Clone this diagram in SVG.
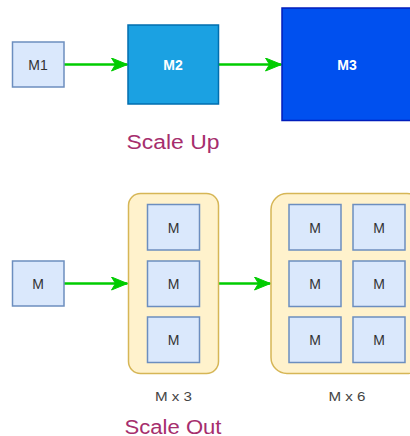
<svg xmlns="http://www.w3.org/2000/svg" width="410" height="436" viewBox="0 0 410 436">
  <style>
    .m { fill: #dae8fc; stroke: #6c8ebf; stroke-width: 1.5; }
    .mt { font-family: "Liberation Sans", Arial, sans-serif; font-size: 14px; fill: #333333; text-anchor: middle; dominant-baseline: central; }
    .bt { font-family: "Liberation Sans", Arial, sans-serif; font-size: 14px; font-weight: bold; fill: #ffffff; text-anchor: middle; dominant-baseline: central; }
    .grp { fill: #fff2cc; stroke: #d6b656; stroke-width: 1.5; }
    .cap { font-family: "Liberation Sans", Arial, sans-serif; font-size: 13.5px; fill: #444444; text-anchor: middle; }
    .title { font-family: "Liberation Sans", Arial, sans-serif; font-size: 20px; fill: #a62e6d; text-anchor: middle; }
    .link { stroke: #00cc00; stroke-width: 2.5; fill: none; marker-end: url(#arrow); }
  </style>
  <defs>
    <marker id="arrow" markerUnits="userSpaceOnUse" markerWidth="18" markerHeight="14" viewBox="0 0 18 14" refX="17" refY="7" orient="auto">
      <path d="M1,0.5 L17,7 L1,13.5 L5,7 Z" fill="#00cc00" stroke="#00cc00" stroke-width="1"/>
    </marker>
  </defs>

  <rect width="410" height="436" fill="#ffffff"/>

  <!-- connectors -->
  <g id="connectors">
    <line class="link" x1="64" y1="64.5" x2="127.5" y2="64.5"/>
    <line class="link" x1="219" y1="64.5" x2="281.5" y2="64.5"/>
    <line class="link" x1="64" y1="283.5" x2="127.5" y2="283.5"/>
    <line class="link" x1="219" y1="283.5" x2="270.5" y2="283.5"/>
  </g>

  <!-- scale up row -->
  <g id="m1">
    <rect class="m" x="12.5" y="42" width="51.5" height="45"/>
    <text class="mt" x="38" y="65">M1</text>
  </g>
  <g id="m2">
    <rect x="128" y="25" width="90.5" height="79" fill="#1ba1e2" stroke="#006eaf" stroke-width="1.5"/>
    <text class="bt" x="173" y="65">M2</text>
  </g>
  <g id="m3">
    <rect x="282" y="8" width="130" height="112.5" fill="#0050ef" stroke="#001dbc" stroke-width="1.5"/>
    <text class="bt" x="347" y="65">M3</text>
  </g>
  <text class="title" x="173" y="149" textLength="93" lengthAdjust="spacingAndGlyphs">Scale Up</text>

  <!-- scale out row -->
  <g id="m-single">
    <rect class="m" x="12.5" y="261" width="51.5" height="45"/>
    <text class="mt" x="38" y="284">M</text>
  </g>

  <g id="group-x3">
    <rect class="grp" x="128.5" y="193.5" width="90" height="180" rx="12"/>
    <rect class="m" x="147.5" y="204.5" width="52" height="45.5"/>
    <text class="mt" x="173.5" y="227.5">M</text>
    <rect class="m" x="147.5" y="261" width="52" height="45.5"/>
    <text class="mt" x="173.5" y="284">M</text>
    <rect class="m" x="147.5" y="317" width="52" height="45.5"/>
    <text class="mt" x="173.5" y="340">M</text>
  </g>
  <text class="cap" x="173.5" y="401" textLength="37" lengthAdjust="spacingAndGlyphs">M x 3</text>

  <g id="group-x6">
    <rect class="grp" x="271" y="193.5" width="152" height="180" rx="16"/>
    <rect class="m" x="289" y="204.5" width="52" height="45.5"/>
    <text class="mt" x="315" y="227.5">M</text>
    <rect class="m" x="353" y="204.5" width="52" height="45.5"/>
    <text class="mt" x="379" y="227.5">M</text>
    <rect class="m" x="289" y="261" width="52" height="45.5"/>
    <text class="mt" x="315" y="284">M</text>
    <rect class="m" x="353" y="261" width="52" height="45.5"/>
    <text class="mt" x="379" y="284">M</text>
    <rect class="m" x="289" y="317" width="52" height="45.5"/>
    <text class="mt" x="315" y="340">M</text>
    <rect class="m" x="353" y="317" width="52" height="45.5"/>
    <text class="mt" x="379" y="340">M</text>
  </g>
  <text class="cap" x="347" y="401" textLength="37" lengthAdjust="spacingAndGlyphs">M x 6</text>

  <text class="title" x="173" y="433.5" textLength="97" lengthAdjust="spacingAndGlyphs">Scale Out</text>
</svg>
